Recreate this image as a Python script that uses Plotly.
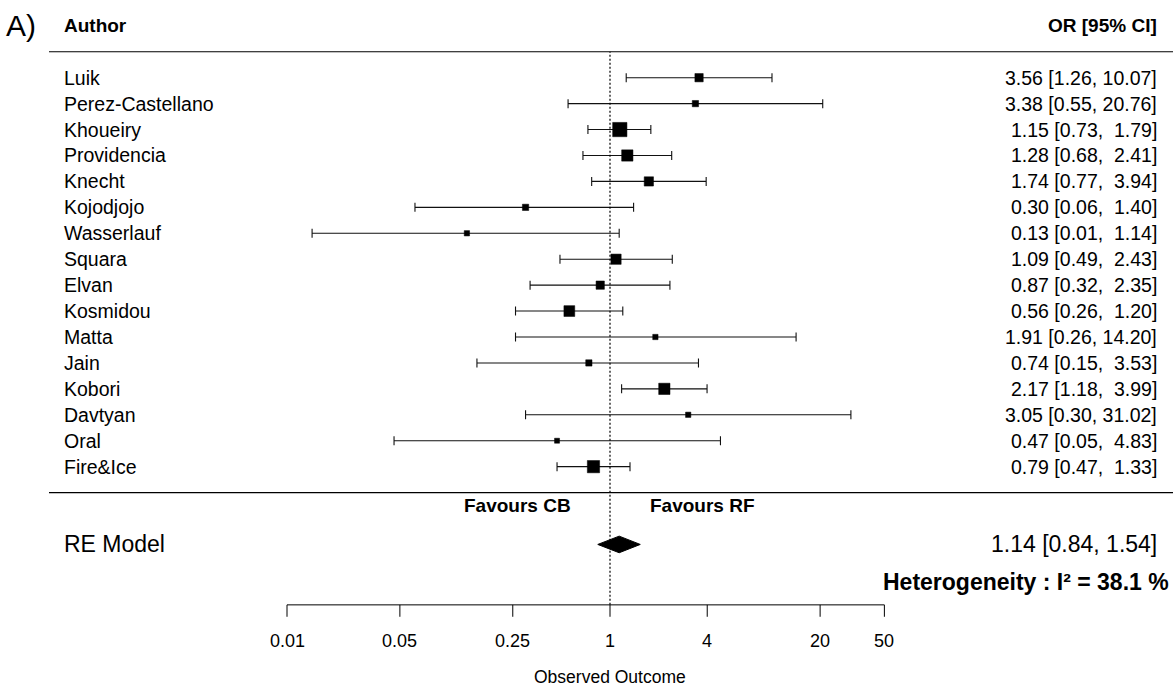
import numpy as np
import plotly.graph_objects as go

# ---------------- data ----------------
authors = ["Luik", "Perez-Castellano", "Khoueiry", "Providencia", "Knecht",
           "Kojodjojo", "Wasserlauf", "Squara", "Elvan", "Kosmidou", "Matta",
           "Jain", "Kobori", "Davtyan", "Oral", "Fire&Ice"]
or_est = [3.56, 3.38, 1.15, 1.28, 1.74, 0.30, 0.13, 1.09, 0.87, 0.56, 1.91,
          0.74, 2.17, 3.05, 0.47, 0.79]
ci_low = [1.26, 0.55, 0.73, 0.68, 0.77, 0.062, 0.0143, 0.49, 0.32, 0.26, 0.26,
          0.15, 1.18, 0.30, 0.046, 0.47]
ci_high = [10.07, 20.76, 1.79, 2.41, 3.94, 1.40, 1.14, 2.43, 2.35, 1.20, 14.20,
           3.53, 3.99, 31.02, 4.83, 1.33]
ci_text = ["3.56 [1.26, 10.07]", "3.38 [0.55, 20.76]", "1.15 [0.73,  1.79]",
           "1.28 [0.68,  2.41]", "1.74 [0.77,  3.94]", "0.30 [0.06,  1.40]",
           "0.13 [0.01,  1.14]", "1.09 [0.49,  2.43]", "0.87 [0.32,  2.35]",
           "0.56 [0.26,  1.20]", "1.91 [0.26, 14.20]", "0.74 [0.15,  3.53]",
           "2.17 [1.18,  3.99]", "3.05 [0.30, 31.02]", "0.47 [0.05,  4.83]",
           "0.79 [0.47,  1.33]"]
weights = [5.6, 3.1, 13.0, 9.3, 6.8, 3.1, 1.9, 8.0, 5.6, 8.7, 1.9, 3.1, 9.3,
           1.9, 1.5, 10.5]

re_est, re_low, re_high = 1.14, 0.84, 1.54
re_text = "1.14 [0.84, 1.54]"
i2 = 38.1

tick_vals = [0.01, 0.05, 0.25, 1, 4, 20, 50]
tick_text = ["0.01", "0.05", "0.25", "1", "4", "20", "50"]

# ---------------- layout helpers ----------------
FONT = "Liberation Sans, Arial, Helvetica, sans-serif"
W, H = 1174, 688
k = len(authors)
rows = list(range(k, 0, -1))          # study rows k..1
re_row = -2
hdr_row = k + 2
axis_row = -4.33

def px(p):
    return p / W

x_left_text = px(62)
x_right_text = px(1159)

w = np.array(weights)
psize = (w - w.min()) / (w.max() - w.min())
sizes = 5.0 + psize * 9.3

est = np.array(or_est)
lo = np.array(ci_low)
hi = np.array(ci_high)

fig = go.Figure()

# study estimates with CIs
fig.add_trace(go.Scatter(
    x=est, y=rows, mode="markers",
    marker=dict(symbol="square", size=sizes, color="black", opacity=1,
                line=dict(width=0.5, color="black")),
    error_x=dict(type="data", symmetric=False, array=hi - est,
                 arrayminus=est - lo, color="#111", thickness=1.1, width=4.5),
    hoverinfo="skip", showlegend=False))

# summary diamond
dh = 0.32
fig.add_trace(go.Scatter(
    x=[re_low, re_est, re_high, re_est, re_low],
    y=[re_row, re_row + dh, re_row, re_row - dh, re_row],
    mode="lines", fill="toself", fillcolor="black",
    line=dict(color="black", width=1), hoverinfo="skip", showlegend=False))

# bottom axis line and ticks (data coords on log axis)
fig.add_trace(go.Scatter(
    x=[tick_vals[0], tick_vals[-1]], y=[axis_row, axis_row], mode="lines",
    line=dict(color="black", width=1), hoverinfo="skip", showlegend=False))
tx, ty = [], []
for t in tick_vals:
    tx += [t, t, None]
    ty += [axis_row, axis_row - 0.46, None]
fig.add_trace(go.Scatter(
    x=tx, y=ty, mode="lines", line=dict(color="black", width=1),
    hoverinfo="skip", showlegend=False))

shapes = []
# horizontal rules
for yv in [k + 1, 0]:
    shapes.append(dict(type="line", xref="paper", yref="y", x0=px(49), x1=px(1173),
                       y0=yv, y1=yv, line=dict(color="black", width=1.2)))
# reference line at 1
shapes.append(dict(type="line", xref="x", yref="y", x0=1, x1=1, y0=axis_row, y1=k + 1,
                   line=dict(color="black", width=1.2, dash="2px,2px")))

ann = []
def text(x, y, s, size=19, bold=False, anchor="left", xref="paper", **kw):
    ann.append(dict(x=x, y=y, xref=xref, yref="y", text=(f"<b>{s}</b>" if bold else s),
                    showarrow=False, xanchor=anchor, yanchor="middle",
                    font=dict(family=FONT, size=size, color="black"), **kw))

for r, a, c in zip(rows, authors, ci_text):
    text(x_left_text, r, a, size=19.5)
    text(x_right_text, r, c.replace("  ", "\u00a0\u00a0"), size=19.5, anchor="right")

text(x_left_text, hdr_row, "Author", bold=True, size=19)
text(x_right_text, hdr_row, "OR [95% CI]", bold=True, size=19, anchor="right")
text(px(4), hdr_row, "A)", size=30, yshift=0)

text(0, -0.5, "Favours CB", bold=True, size=19, anchor="right", xref="x", xshift=-37)
text(0, -0.5, "Favours RF", bold=True, size=19, anchor="left", xref="x", xshift=38)

text(x_left_text, re_row, "RE Model", size=23)
text(x_right_text, re_row, re_text, size=23, anchor="right")
text(px(1171), -3.43, f"Heterogeneity : I\u00b2 = {i2} %", bold=True, size=23, anchor="right")

for t, s in zip(tick_vals, tick_text):
    text(np.log10(t), -5.72, s, size=18, anchor="center", xref="x")
text(0, -7.1, "Observed Outcome", size=17.5, anchor="center", xref="x")

x_lo = (0 - 610) / 161.5
x_hi = (W - 610) / 161.5
y_top = k + 77.7 / 25.93
y_bot = k - (H - 77.7) / 25.93

fig.update_layout(
    width=W, height=H, margin=dict(l=0, r=0, t=0, b=0),
    paper_bgcolor="white", plot_bgcolor="white",
    xaxis=dict(type="log", range=[x_lo, x_hi], visible=False, fixedrange=True),
    yaxis=dict(range=[y_bot, y_top], visible=False, fixedrange=True),
    shapes=shapes, annotations=ann, showlegend=False)

fig.write_html("out.html", config={"displayModeBar": False},
               post_script="document.body.style.margin='0';document.body.style.overflow='hidden';")
